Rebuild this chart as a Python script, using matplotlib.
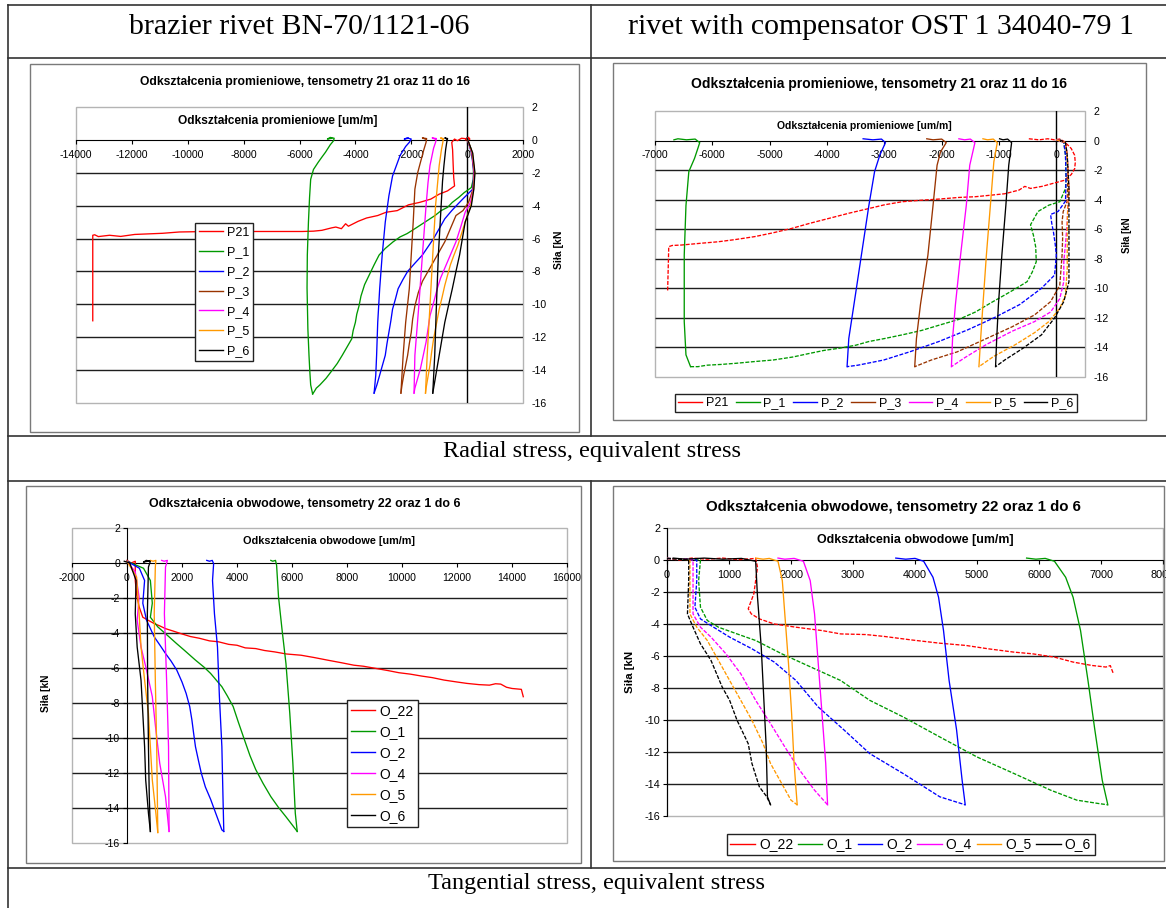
import numpy as np
import matplotlib.pyplot as plt
from matplotlib.lines import Line2D
from matplotlib.patches import Rectangle

plt.rcParams['axes.unicode_minus'] = False
plt.rcParams['font.family'] = ['Liberation Sans', 'DejaVu Sans']

W, H = 1166, 908

# ---- data: strain [um/m] vs force [kN], (x, y) pairs ----
y_ticks = [2, 0, -2, -4, -6, -8, -10, -12, -14, -16]
grid_levels = [-2, -4, -6, -8, -10, -12, -14]

tl_xticks = [-14000, -12000, -10000, -8000, -6000, -4000, -2000, 0, 2000]
tr_xticks = [-7000, -6000, -5000, -4000, -3000, -2000, -1000, 0]
bl_xticks = [-2000, 0, 2000, 4000, 6000, 8000, 10000, 12000, 14000, 16000]
br_xticks = [0, 1000, 2000, 3000, 4000, 5000, 6000, 7000, 8000]

p_labels = ['P21', 'P_1', 'P_2', 'P_3', 'P_4', 'P_5', 'P_6']
o_labels = ['O_22', 'O_1', 'O_2', 'O_4', 'O_5', 'O_6']
p_colors = ['#ff0000', '#009900', '#0000ff', '#993300', '#ff00ff', '#ff9900', '#000000']
o_colors = ['#ff0000', '#009900', '#0000ff', '#ff00ff', '#ff9900', '#000000']

# brazier rivet, radial gauges
tl_p21 = [(60, 0.15), (-50, 0.0), (100, 0.05), (-200, 0.1), (-350, -0.05), (-450, 0.05), (-550, -0.15),
          (-520, -0.6), (-500, -1.5), (-480, -2.3), (-450, -2.8), (-700, -3.1), (-1000, -3.3), (-1300, -3.6),
          (-1700, -3.8), (-2100, -3.95), (-2500, -4.3), (-2900, -4.4), (-3200, -4.6), (-3600, -4.75),
          (-3900, -4.95), (-4250, -5.25), (-4350, -5.1), (-4500, -5.4), (-4700, -5.3), (-4850, -5.35),
          (-5200, -5.5), (-5500, -5.55), (-5900, -5.57), (-7500, -5.57), (-9600, -5.58), (-10300, -5.6),
          (-10900, -5.68), (-11900, -5.75), (-12400, -5.87), (-12800, -5.8), (-13200, -5.88),
          (-13330, -5.77), (-13400, -5.8), (-13400, -11.0)]
tl_p1_load = [(0, 0.1), (150, -0.6), (230, -1.6), (220, -2.4), (150, -2.9), (-100, -3.2), (-300, -3.5),
              (-530, -3.8), (-700, -4.1), (-930, -4.3), (-1150, -4.6), (-1330, -4.8), (-1600, -5.1),
              (-1870, -5.4), (-2150, -5.7), (-2400, -5.9), (-2650, -6.2), (-2930, -6.6), (-3150, -7.0),
              (-3330, -7.6), (-3500, -8.2), (-3670, -8.8), (-3800, -9.5), (-3870, -10.1), (-3950, -10.6),
              (-4000, -11.1), (-4080, -11.6), (-4130, -12.1), (-4300, -12.6), (-4470, -13.1), (-4650, -13.6),
              (-4870, -14.1), (-5050, -14.5), (-5270, -14.9), (-5400, -15.1), (-5470, -15.3), (-5530, -15.45)]
tl_p1_unload = [(-5530, -15.45), (-5600, -14.9), (-5630, -14.1), (-5660, -13.1), (-5700, -11.5),
                (-5730, -9.0), (-5720, -7.0), (-5680, -5.0), (-5640, -3.5), (-5600, -2.4), (-5500, -1.8),
                (-5330, -1.36), (-5200, -1.05), (-5070, -0.75), (-4900, -0.3), (-4780, -0.05),
                (-4760, 0.1), (-4900, 0.15), (-5000, 0.05), (-4850, 0.1)]
tl_p2_load = [(0, 0.1), (160, -0.8), (240, -2.0), (200, -3.0), (-100, -3.5), (-330, -3.9), (-550, -4.3),
              (-800, -4.8), (-1000, -5.4), (-1200, -6.0), (-1400, -6.5), (-1600, -7.0), (-1870, -7.5),
              (-2130, -8.0), (-2300, -8.5), (-2470, -9.05), (-2570, -9.7), (-2670, -10.3), (-2730, -11.0),
              (-2800, -11.7), (-2870, -12.4), (-2930, -13.1), (-3030, -13.7), (-3130, -14.3),
              (-3230, -14.9), (-3330, -15.4)]
tl_p2_unload = [(-3330, -15.4), (-3270, -14.3), (-3240, -13.1), (-3200, -11.1), (-3130, -9.05),
                (-3040, -7.0), (-2930, -5.0), (-2800, -3.4), (-2670, -2.2), (-2400, -0.95), (-2200, -0.4),
                (-2070, -0.15), (-2000, 0.05), (-2150, 0.12), (-2250, 0.05), (-2100, 0.1)]
tl_p3_load = [(0, 0.1), (170, -0.8), (250, -2.0), (210, -3.0), (50, -3.8), (-150, -4.3), (-400, -4.6),
              (-600, -5.4), (-800, -6.2), (-1000, -6.8), (-1200, -7.4), (-1400, -8.0), (-1600, -8.6),
              (-1750, -9.3), (-1870, -10.1), (-1950, -10.9), (-2000, -11.7), (-2070, -12.4),
              (-2130, -13.1), (-2200, -13.7), (-2270, -14.3), (-2330, -14.9), (-2370, -15.4)]
tl_p3_unload = [(-2370, -15.4), (-2290, -13.1), (-2200, -11.1), (-2070, -9.05), (-2000, -7.0),
                (-1930, -5.0), (-1870, -3.0), (-1770, -2.0), (-1670, -1.36), (-1550, -0.6),
                (-1470, -0.15), (-1450, 0.08), (-1600, 0.12), (-1500, 0.05)]
tl_p4_load = [(0, 0.1), (180, -0.8), (260, -2.0), (220, -3.0), (120, -3.8), (-70, -4.4), (-230, -5.3),
              (-400, -6.2), (-600, -7.0), (-800, -7.8), (-950, -8.4), (-1070, -9.05), (-1200, -9.9),
              (-1330, -10.7), (-1400, -11.5), (-1470, -12.3), (-1570, -13.1), (-1670, -13.9),
              (-1770, -14.5), (-1870, -15.1), (-1900, -15.4)]
tl_p4_unload = [(-1900, -15.4), (-1870, -13.1), (-1730, -10.1), (-1600, -7.0), (-1470, -4.0),
                (-1400, -2.6), (-1330, -1.56), (-1200, -0.5), (-1130, -0.15), (-1100, 0.08),
                (-1250, 0.12), (-1150, 0.05)]
tl_p5_load = [(0, 0.1), (190, -0.8), (270, -2.0), (230, -3.0), (130, -4.0), (-70, -5.0), (-200, -5.7),
              (-330, -6.4), (-470, -7.0), (-600, -7.6), (-800, -8.85), (-900, -9.6), (-1000, -10.3),
              (-1100, -11.2), (-1200, -12.1), (-1270, -12.9), (-1330, -13.7), (-1400, -14.4),
              (-1470, -15.1), (-1490, -15.4)]
tl_p5_unload = [(-1490, -15.4), (-1430, -13.1), (-1330, -10.1), (-1230, -7.0), (-1130, -4.0),
                (-1050, -2.5), (-1000, -1.56), (-920, -0.6), (-870, -0.15), (-850, 0.08), (-950, 0.12),
                (-880, 0.05)]
tl_p6_load = [(0, 0.1), (200, -0.8), (280, -2.0), (240, -3.0), (150, -4.0), (-70, -5.0), (-170, -6.0),
              (-270, -7.0), (-400, -8.0), (-530, -9.05), (-670, -10.1), (-800, -11.1), (-900, -12.1),
              (-1000, -13.1), (-1100, -14.1), (-1200, -15.1), (-1230, -15.4)]
tl_p6_unload = [(-1230, -15.4), (-1160, -13.1), (-1100, -10.1), (-1030, -7.0), (-930, -4.0),
                (-880, -2.5), (-830, -1.56), (-770, -0.6), (-730, -0.15), (-700, 0.08), (-800, 0.12),
                (-720, 0.05)]

# rivet with compensator, radial gauges
tr_p21 = [(-480, 0.12), (-300, 0.05), (-150, 0.12), (-30, 0.05), (60, 0.1), (130, -0.05), (200, -0.3),
          (260, -0.54), (320, -1.0), (330, -1.5), (320, -1.9), (260, -2.3), (130, -2.7), (-60, -2.9),
          (-250, -3.1), (-450, -3.24), (-550, -3.1), (-650, -3.35), (-900, -3.6), (-1150, -3.7),
          (-1410, -3.8), (-1700, -3.85), (-2050, -3.96), (-2400, -4.05), (-2690, -4.14), (-3000, -4.35),
          (-3270, -4.6), (-3600, -4.9), (-3970, -5.27), (-4300, -5.6), (-4620, -5.95), (-4950, -6.25),
          (-5260, -6.5), (-5600, -6.7), (-5900, -6.85), (-6200, -6.95), (-6540, -7.07), (-6700, -7.1),
          (-6760, -7.18), (-6780, -10.2)]
tr_p1_load = [(0, 0.05), (130, -0.1), (160, -1.0), (170, -2.5), (160, -3.24), (60, -4.14), (-130, -4.37),
              (-320, -4.8), (-450, -5.7), (-400, -6.4), (-360, -7.2), (-350, -8.2), (-420, -8.9),
              (-510, -9.55), (-700, -10.0), (-900, -10.45), (-1150, -11.0), (-1410, -11.6), (-1700, -12.1),
              (-2050, -12.5), (-2350, -12.85), (-2690, -13.15), (-3000, -13.4), (-3270, -13.6),
              (-3500, -13.85), (-3780, -14.05), (-4050, -14.2), (-4300, -14.4), (-4600, -14.65),
              (-4940, -14.85), (-5250, -14.95), (-5580, -15.07), (-5850, -15.15), (-6090, -15.2),
              (-6250, -15.3), (-6380, -15.3)]
tr_p1_unload = [(-6380, -15.3), (-6460, -14.5), (-6490, -12.25), (-6490, -7.75), (-6460, -4.4),
                (-6410, -2.1), (-6310, -1.2), (-6250, -0.5), (-6220, -0.14), (-6300, 0.1), (-6450, 0.05),
                (-6600, 0.12), (-6670, 0.05)]
tr_p2_load = [(0, 0.05), (130, -0.1), (160, -1.0), (170, -2.5), (160, -4.1), (30, -4.8), (-100, -5.0),
              (-80, -5.6), (-50, -6.2), (-20, -7.0), (0, -7.75), (-30, -9.1), (-260, -10.0), (-640, -11.1),
              (-1090, -12.0), (-1540, -12.8), (-2050, -13.6), (-2560, -14.3), (-3010, -14.85),
              (-3460, -15.2), (-3650, -15.3)]
tr_p2_unload = [(-3650, -15.3), (-3620, -13.4), (-3530, -11.1), (-3400, -7.75), (-3270, -4.4),
                (-3170, -2.1), (-3080, -1.0), (-2980, -0.14), (-3050, 0.1), (-3200, 0.05), (-3370, 0.12)]
tr_p3_load = [(0, 0.05), (160, -0.14), (190, -1.0), (200, -2.5), (190, -4.1), (120, -4.8), (100, -5.5),
              (110, -6.6), (100, -7.75), (60, -9.8), (-100, -10.9), (-380, -11.8), (-770, -12.6),
              (-1220, -13.4), (-1730, -14.3), (-2180, -14.85), (-2470, -15.3)]
tr_p3_unload = [(-2470, -15.3), (-2440, -13.4), (-2370, -11.1), (-2240, -7.75), (-2150, -4.37),
                (-2080, -1.67), (-2020, -0.77), (-1920, -0.14), (-2000, 0.1), (-2150, 0.05), (-2260, 0.12)]
tr_p4_load = [(0, 0.05), (160, -0.14), (190, -1.0), (220, -3.24), (200, -4.5), (190, -5.5), (160, -7.0),
              (130, -8.2), (130, -9.55), (60, -10.7), (-100, -11.6), (-380, -12.25), (-770, -12.9),
              (-1220, -13.8), (-1600, -14.7), (-1830, -15.3)]
tr_p4_unload = [(-1830, -15.3), (-1810, -13.4), (-1760, -11.1), (-1670, -7.75), (-1570, -4.37),
                (-1510, -1.67), (-1420, -0.14), (-1500, 0.1), (-1600, 0.05), (-1700, 0.12)]
tr_p5_load = [(0, 0.05), (160, -0.14), (190, -1.0), (220, -3.24), (200, -4.5), (190, -5.5), (190, -8.65),
              (160, -10.45), (60, -11.35), (-130, -12.25), (-380, -13.0), (-710, -13.8), (-1090, -14.6),
              (-1350, -15.3)]
tr_p5_unload = [(-1350, -15.3), (-1320, -13.4), (-1280, -11.1), (-1220, -7.75), (-1150, -4.37),
                (-1090, -1.44), (-1030, -0.14), (-1100, 0.1), (-1200, 0.05), (-1280, 0.12)]
tr_p6_load = [(60, 0.05), (160, -0.14), (190, -1.0), (220, -3.24), (220, -6.6), (220, -9.55),
              (130, -10.9), (-30, -12.0), (-260, -13.15), (-580, -14.05), (-900, -14.85), (-1060, -15.3)]
tr_p6_unload = [(-1060, -15.3), (-1040, -13.4), (-1010, -11.1), (-950, -7.75), (-880, -4.37),
                (-830, -1.67), (-780, -0.14), (-850, 0.1), (-930, 0.05), (-990, 0.12)]

# brazier rivet, circumferential gauges
bl_o22 = [(0, 0.15), (150, 0.0), (300, 0.1), (300, -1.0), (350, -1.8), (440, -2.5), (575, -3.1),
          (800, -3.3), (990, -3.46), (1200, -3.6), (1400, -3.75), (1700, -3.9), (1950, -4.03),
          (2300, -4.2), (2630, -4.3), (3000, -4.45), (3320, -4.5), (3700, -4.65), (4000, -4.7),
          (4300, -4.85), (4680, -4.89), (5000, -5.0), (5370, -5.08), (5800, -5.2), (6330, -5.27),
          (6800, -5.4), (7290, -5.55), (7800, -5.7), (8250, -5.84), (8600, -5.9), (9070, -6.03),
          (9500, -6.15), (9890, -6.27), (10300, -6.35), (10710, -6.46), (11100, -6.55), (11530, -6.69),
          (12000, -6.8), (12360, -6.88), (12800, -6.95), (13180, -6.98), (13400, -6.9), (13590, -6.92),
          (13800, -7.1), (14000, -7.17), (14340, -7.22), (14410, -7.64)]
bl_o1_load = [(0, 0.1), (600, -0.3), (850, -1.0), (920, -2.3), (850, -3.1), (1120, -3.65), (1530, -4.22),
              (1800, -4.6), (2080, -4.98), (2490, -5.55), (2800, -5.95), (3040, -6.31), (3250, -6.7),
              (3450, -7.07), (3650, -7.6), (3860, -8.2), (4050, -9.1), (4270, -10.1), (4470, -11.0),
              (4680, -11.8), (4950, -12.6), (5230, -13.35), (5500, -13.95), (5780, -14.5),
              (6000, -14.95), (6190, -15.34)]
bl_o1_unload = [(6190, -15.34), (6120, -14.3), (6030, -11.4), (5920, -8.6), (5780, -5.74), (5640, -3.84),
                (5510, -1.94), (5440, -0.13), (5400, 0.15), (5300, 0.1), (5230, 0.15)]
bl_o2_load = [(0, 0.1), (450, -0.3), (640, -1.0), (575, -2.3), (710, -3.27), (990, -4.22), (1200, -4.7),
              (1400, -5.17), (1600, -5.6), (1810, -6.12), (2000, -6.8), (2150, -7.45), (2280, -8.2),
              (2360, -8.97), (2420, -9.7), (2490, -10.5), (2600, -11.3), (2700, -12.0), (2850, -12.8),
              (3040, -13.5), (3250, -14.4), (3450, -15.25), (3520, -15.34)]
bl_o2_unload = [(3520, -15.34), (3490, -13.35), (3450, -10.5), (3360, -7.64), (3290, -4.8), (3180, -2.9),
                (3110, -1.0), (3150, -0.04), (3100, 0.15), (3000, 0.1), (2900, 0.15)]
bl_o4_load = [(0, 0.1), (300, -0.5), (440, -1.94), (370, -3.27), (510, -4.8), (710, -6.12), (920, -7.64),
              (1050, -9.54), (1190, -11.44), (1400, -13.35), (1530, -15.34)]
bl_o4_unload = [(1530, -15.34), (1510, -10.5), (1440, -6.7), (1360, -2.9), (1400, -0.23), (1470, 0.15),
                (1350, 0.1), (1260, 0.15)]
bl_o5_load = [(0, 0.1), (350, -0.8), (440, -2.9), (510, -4.8), (640, -6.7), (780, -8.6), (850, -10.5),
              (920, -12.4), (1050, -14.3), (1120, -15.4)]
bl_o5_unload = [(1120, -15.4), (1080, -10.5), (1030, -6.7), (990, -2.9), (1030, -0.23), (1050, 0.15),
                (950, 0.1), (850, 0.15)]
bl_o6_load = [(-100, 0.1), (100, 0.0), (330, -1.0), (300, -2.9), (370, -4.8), (510, -6.7), (575, -8.6),
              (640, -10.5), (680, -12.4), (780, -14.3), (850, -15.34)]
bl_o6_unload = [(850, -15.34), (810, -13.35), (780, -10.5), (750, -6.7), (740, -2.9), (780, -0.23),
                (850, 0.1), (700, 0.15), (600, 0.05), (800, 0.12)]

# rivet with compensator, circumferential gauges
br_o22 = [(0, 0.1), (200, 0.0), (400, 0.12), (650, 0.05), (900, 0.12), (1150, 0.02), (1430, 0.1),
          (1460, -0.46), (1430, -1.29), (1400, -2.12), (1340, -2.74), (1310, -3.05), (1360, -3.37),
          (1490, -3.68), (1730, -4.0), (2080, -4.2), (2500, -4.41), (2800, -4.62), (3210, -4.66),
          (3510, -4.78), (3930, -4.99), (4400, -5.2), (4820, -5.34), (5180, -5.55), (5600, -5.76),
          (5890, -5.86), (6250, -6.07), (6550, -6.38), (6850, -6.59), (7080, -6.69), (7150, -6.6),
          (7200, -7.11)]
br_o1_load = [(0, 0.1), (300, 0.05), (540, 0.0), (510, -1.29), (540, -2.95), (650, -3.78), (830, -4.2),
              (1130, -4.62), (1430, -5.03), (1850, -5.86), (2320, -6.69), (2800, -7.53), (3270, -8.77),
              (3810, -9.81), (4400, -11.06), (5000, -12.31), (5600, -13.35), (6190, -14.39),
              (6610, -15.01), (6960, -15.22), (7110, -15.3)]
br_o1_unload = [(7110, -15.3), (7020, -13.76), (6900, -10.6), (6790, -7.53), (6670, -4.41), (6550, -2.33),
                (6430, -1.08), (6250, -0.08), (6100, 0.1), (5950, 0.05), (5800, 0.12)]
br_o2_load = [(0, 0.1), (300, 0.05), (480, 0.0), (480, -1.29), (450, -2.95), (540, -3.68), (710, -4.1),
              (1010, -4.82), (1370, -5.55), (1730, -6.38), (2080, -7.53), (2440, -9.19), (2860, -10.64),
              (3270, -12.1), (3810, -13.35), (4400, -14.8), (4810, -15.3)]
br_o2_unload = [(4810, -15.3), (4760, -13.76), (4670, -10.6), (4550, -7.53), (4460, -4.41), (4380, -2.33),
                (4290, -1.08), (4140, -0.08), (4000, 0.1), (3850, 0.05), (3690, 0.12)]
br_o4_load = [(0, 0.1), (300, 0.05), (420, 0.0), (420, -2.33), (420, -3.37), (540, -4.2), (710, -4.82),
              (950, -5.86), (1190, -7.11), (1430, -8.77), (1670, -10.23), (1900, -11.68), (2140, -13.14),
              (2380, -14.39), (2590, -15.3)]
br_o4_unload = [(2590, -15.3), (2560, -12.72), (2500, -9.6), (2440, -6.49), (2380, -3.37), (2310, -1.29),
                (2200, -0.08), (2050, 0.1), (1900, 0.05), (1790, 0.12)]
br_o5_load = [(0, 0.1), (250, 0.05), (370, 0.0), (370, -2.33), (370, -3.37), (480, -4.2), (650, -5.03),
              (830, -6.28), (1010, -7.53), (1190, -8.77), (1370, -10.02), (1550, -11.48), (1670, -12.72),
              (1850, -13.97), (2000, -15.01), (2100, -15.3)]
br_o5_unload = [(2100, -15.3), (2050, -12.72), (2010, -9.6), (1960, -6.49), (1900, -3.37), (1860, -1.29),
                (1790, -0.08), (1650, 0.1), (1550, 0.05), (1430, 0.12)]
br_o6_load = [(0, 0.1), (200, 0.05), (350, 0.0), (350, -1.29), (330, -3.37), (420, -4.2), (540, -5.24),
              (710, -6.28), (890, -7.94), (1010, -8.77), (1130, -10.02), (1310, -11.48), (1370, -12.72),
              (1490, -14.18), (1610, -14.8), (1670, -15.3)]
br_o6_unload = [(1670, -15.3), (1620, -14.8), (1600, -11.68), (1560, -8.57), (1520, -5.45), (1460, -2.33),
                (1430, -0.08), (1200, 0.1), (900, 0.05), (600, 0.12), (300, 0.05), (100, 0.12)]

tl_series = [[tl_p21], [tl_p1_load, tl_p1_unload], [tl_p2_load, tl_p2_unload], [tl_p3_load, tl_p3_unload],
             [tl_p4_load, tl_p4_unload], [tl_p5_load, tl_p5_unload], [tl_p6_load, tl_p6_unload]]
tr_series = [[tr_p21], [tr_p1_load, tr_p1_unload], [tr_p2_load, tr_p2_unload], [tr_p3_load, tr_p3_unload],
             [tr_p4_load, tr_p4_unload], [tr_p5_load, tr_p5_unload], [tr_p6_load, tr_p6_unload]]
bl_series = [[bl_o22], [bl_o1_load, bl_o1_unload], [bl_o2_load, bl_o2_unload], [bl_o4_load, bl_o4_unload],
             [bl_o5_load, bl_o5_unload], [bl_o6_load, bl_o6_unload]]
br_series = [[br_o22], [br_o1_load, br_o1_unload], [br_o2_load, br_o2_unload], [br_o4_load, br_o4_unload],
             [br_o5_load, br_o5_unload], [br_o6_load, br_o6_unload]]

fig = plt.figure(figsize=(W / 100, H / 100), dpi=100)


def fx(x):
    return x / W


def fy(y):
    return 1 - y / H


def line(xs, ys, color='#333333', lw=1.2):
    fig.add_artist(Line2D([fx(v) for v in xs], [fy(v) for v in ys],
                          transform=fig.transFigure, color=color, lw=lw))


def ftext(x, y, s, **kw):
    fig.text(fx(x), fy(y), s, ha='center', va='center', **kw)


def box(x0, y0, x1, y1, color='#7a7a7a'):
    fig.add_artist(Rectangle((fx(x0), fy(y1)), fx(x1) - fx(x0), fy(y0) - fy(y1),
                             transform=fig.transFigure, fill=False, edgecolor=color, lw=1.0))


# table frame
line([8, 1166], [5, 5])
line([8, 1166], [58, 58])
line([8, 1166], [436, 436])
line([8, 1166], [481, 481])
line([8, 1166], [868, 868])
line([8, 8], [5, 908])
line([591, 591], [5, 436])
line([591, 591], [481, 868])

serif = 'Liberation Serif'
ftext(299, 27, 'brazier rivet BN-70/1121-06', family=serif, fontsize=21.5)
ftext(881, 27, 'rivet with compensator OST 1 34040-79 1', family=serif, fontsize=21.5)
ftext(592, 452, 'Radial stress, equivalent stress', family=serif, fontsize=17.5)
ftext(596, 884, 'Tangential stress, equivalent stress', family=serif, fontsize=17.5)


def make_axes(area, xticks, xlim, labels_right, tick_fs):
    x0, y0, x1, y1 = area
    ax = fig.add_axes([fx(x0), fy(y1), fx(x1) - fx(x0), fy(y0) - fy(y1)])
    ax.set_xlim(xlim)
    ax.set_ylim(-16, 2)
    for s in ax.spines.values():
        s.set_visible(False)
    ax.add_patch(Rectangle((0, 0), 1, 1, transform=ax.transAxes, fill=False,
                           edgecolor='#b4b4b4', lw=1.0, clip_on=False, zorder=1))
    ax.hlines(grid_levels, xlim[0], xlim[1], color='#1e1e1e', lw=1.0, zorder=1)
    ax.spines['bottom'].set_visible(True)
    ax.spines['bottom'].set_position(('data', 0))
    ax.spines['bottom'].set_color('black')
    ax.set_xticks(xticks)
    ax.set_xticklabels([str(v) for v in xticks])
    ax.tick_params(axis='x', direction='out', length=3, pad=4, labelsize=tick_fs, color='black')
    ax.set_yticks(y_ticks)
    ax.set_yticklabels([str(v) for v in y_ticks])
    if labels_right:
        ax.axvline(0, color='black', lw=1.0, zorder=1)
        ax.yaxis.set_ticks_position('right')
        ax.tick_params(axis='y', length=0, pad=6, labelsize=tick_fs)
    else:
        ax.spines['left'].set_visible(True)
        ax.spines['left'].set_position(('data', 0))
        ax.spines['left'].set_color('black')
        ax.tick_params(axis='y', direction='out', length=3, pad=2, labelsize=tick_fs)
    return ax


def draw(ax, series, colors, dash):
    for parts, c in zip(series, colors):
        for k, pts in enumerate(parts):
            xy = np.array(pts, dtype=float)
            ls = (0, (3, 1.2)) if (dash and k == 0) else '-'
            ax.plot(xy[:, 0], xy[:, 1], color=c, lw=0.95, ls=ls, zorder=3, clip_on=False)


def legend(ax, labels, colors, x, y, fs, ncol=1, **kw):
    handles = [Line2D([], [], color=c, lw=1.0) for c in colors]
    leg = ax.legend(handles, labels, loc='upper left', bbox_to_anchor=(fx(x), fy(y)),
                    bbox_transform=fig.transFigure, borderaxespad=0, ncol=ncol, fontsize=fs,
                    fancybox=False, framealpha=1, edgecolor='#222222', **kw)
    leg.get_frame().set_linewidth(1.0)
    leg.set_zorder(5)


bold = dict(fontweight='bold')

# ---- top left ----
box(30, 64, 579, 432)
ax = make_axes((76, 107, 523, 403), tl_xticks, (-14000, 2000), True, 7.6)
draw(ax, tl_series, p_colors, False)
legend(ax, p_labels, p_colors, 195, 223, 9, labelspacing=0.62, handlelength=1.95,
       handletextpad=0.3, borderpad=0.3)
ftext(305, 82, 'Odkształcenia promieniowe, tensometry 21 oraz 11 do 16', fontsize=8.7, **bold)
ftext(278, 121, 'Odkształcenia promieniowe [um/m]', fontsize=8.6, **bold)
ftext(559, 250, 'Siła [kN', fontsize=7.5, rotation=90, **bold)

# ---- top right ----
box(613, 63, 1146, 420)
ax = make_axes((655, 111, 1085, 377), tr_xticks, (-7000, 500), True, 7.6)
draw(ax, tr_series, p_colors, True)
legend(ax, p_labels, p_colors, 675, 394, 9, ncol=7, handlelength=1.9, handletextpad=0.3,
       columnspacing=0.62, borderpad=0.25)
ftext(879, 84, 'Odkształcenia promieniowe, tensometry 21 oraz 11 do 16', fontsize=10, **bold)
ftext(864, 126, 'Odkształcenia promieniowe [um/m]', fontsize=7.5, **bold)
ftext(1127, 235, 'Siła [kN', fontsize=7, rotation=90, **bold)

# ---- bottom left ----
box(26, 486, 581, 863)
ax = make_axes((72, 528, 567, 843), bl_xticks, (-2000, 16000), False, 7.6)
draw(ax, bl_series, o_colors, False)
legend(ax, o_labels, o_colors, 347, 700, 10, labelspacing=0.5, handlelength=1.75,
       handletextpad=0.3, borderpad=0.3)
ftext(305, 504, 'Odkształcenia obwodowe, tensometry 22 oraz 1 do 6', fontsize=8.9, **bold)
ftext(329, 541, 'Odkształcenia obwodowe [um/m]', fontsize=7.8, **bold)
ftext(46, 693, 'Siła [kN', fontsize=7.3, rotation=90, **bold)

# ---- bottom right ----
box(613, 486, 1164, 861)
ax = make_axes((667, 528, 1163, 816), br_xticks, (0, 8000), False, 7.8)
draw(ax, br_series, o_colors, True)
legend(ax, o_labels, o_colors, 727, 834, 10, ncol=6, handlelength=1.75, handletextpad=0.3,
       columnspacing=0.35, borderpad=0.25)
ftext(893, 507, 'Odkształcenia obwodowe, tensometry 22 oraz 1 do 6', fontsize=10.8, **bold)
ftext(915, 540, 'Odkształcenia obwodowe [um/m]', fontsize=8.9, **bold)
ftext(630, 672, 'Siła [kN', fontsize=8.2, rotation=90, **bold)

fig.savefig('out.png', dpi=100)
